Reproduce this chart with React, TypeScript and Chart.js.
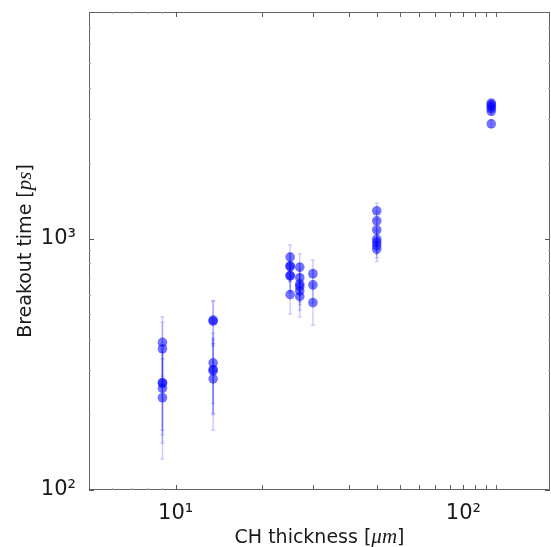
import React, { useEffect, useRef } from 'react';
import { Chart, registerables } from 'chart.js';

Chart.register(...registerables);

// ---- data (CH thickness in µm, breakout time in ps, ± error in ps) ----
const thicknessGroups = [9, 13.5, 25, 27, 30, 50, 125];
const breakout9 = [387, 365, 268, 266, 254, 233];
const breakout13 = [475, 470, 321, 302, 298, 277];
const breakout25 = [845, 780, 776, 716, 712, 600];
const breakout27 = [771, 700, 660, 645, 620, 590];
const breakout30 = [726, 656, 557];
const breakout50 = [1293, 1180, 1086, 997, 970, 940, 910];
const breakout125 = [3470, 3420, 3360, 3300, 3220, 2870];
const error9 = [103, 100, 95, 100, 100, 100];
const error13 = [92, 95, 100, 100, 98, 104];
const error25 = [99, 100, 100, 98, 100, 98];
const error27 = [101, 100, 100, 98, 100, 102];
const error30 = [98, 100, 104];
const error50 = [94, 100, 100, 98, 100, 100, 98];
const error125 = [100, 100, 100, 100, 100, 100];

// ---- axes ----
const xMin = 5;
const xMax = 200;
const yMin = 100;
const yMax = 8000;
const xTickValues = [10, 100];
const xTickLabels = ['10\u00B9', '10\u00B2'];
const yTickValues = [100, 1000];
const yTickLabels = ['10\u00B2', '10\u00B3'];
const xMinorShort = [6, 7, 8, 9];
const xMinorLong = [20, 30, 40, 50, 60, 70, 80, 90, 110, 120, 130];
const yMinor = [200, 300, 400, 500, 600, 700, 800, 900, 2000, 3000, 4000, 5000, 6000, 7000];

const breakoutGroups = [breakout9, breakout13, breakout25, breakout27, breakout30, breakout50, breakout125];
const errorGroups = [error9, error13, error25, error27, error30, error50, error125];

const SANS = '"DejaVu Sans", sans-serif';
const SERIF = '"Liberation Serif", "DejaVu Serif", serif';
const TEXT = '#1a1a1a';

function buildPoints() {
  const pts: { x: number; y: number; err: number }[] = [];
  thicknessGroups.forEach((t, gi) => {
    breakoutGroups[gi].forEach((v, i) => {
      pts.push({ x: t, y: v, err: errorGroups[gi][i] });
    });
  });
  return pts;
}

const errorBarPlugin = {
  id: 'errorBars',
  beforeDatasetsDraw(chart: any) {
    const { ctx, chartArea, scales } = chart;
    const xs = scales.x;
    const ys = scales.y;
    ctx.save();
    ctx.beginPath();
    ctx.rect(chartArea.left, chartArea.top, chartArea.right - chartArea.left, chartArea.bottom - chartArea.top);
    ctx.clip();
    ctx.strokeStyle = 'rgba(0,0,255,0.2)';
    ctx.lineWidth = 1.5;
    chart.data.datasets.forEach((ds: any) => {
      ds.data.forEach((p: any) => {
        const px = xs.getPixelForValue(p.x);
        const top = ys.getPixelForValue(p.y + p.err);
        const bot = ys.getPixelForValue(Math.max(p.y - p.err, 1));
        ctx.beginPath();
        ctx.moveTo(px, top);
        ctx.lineTo(px, bot);
        ctx.moveTo(px - 2, top);
        ctx.lineTo(px + 2, top);
        ctx.moveTo(px - 2, bot);
        ctx.lineTo(px + 2, bot);
        ctx.stroke();
      });
    });
    ctx.restore();
  },
};

const framePlugin = {
  id: 'frame',
  afterDraw(chart: any) {
    const { ctx, chartArea, scales } = chart;
    const { left, right, top, bottom } = chartArea;
    const xs = scales.x;
    const ys = scales.y;
    ctx.save();
    ctx.strokeStyle = '#666';
    ctx.lineWidth = 1;
    ctx.strokeRect(Math.round(left) + 0.5, Math.round(top) + 0.5, Math.round(right - left) - 1, Math.round(bottom - top) - 1);

    const vTick = (v: number, len: number, color: string) => {
      const px = Math.round(xs.getPixelForValue(v)) + 0.5;
      ctx.strokeStyle = color;
      ctx.beginPath();
      ctx.moveTo(px, bottom);
      ctx.lineTo(px, bottom - len);
      ctx.moveTo(px, top);
      ctx.lineTo(px, top + len);
      ctx.stroke();
    };
    const hTick = (v: number, len: number, color: string) => {
      const py = Math.round(ys.getPixelForValue(v)) + 0.5;
      ctx.strokeStyle = color;
      ctx.beginPath();
      ctx.moveTo(left, py);
      ctx.lineTo(left + len, py);
      ctx.moveTo(right, py);
      ctx.lineTo(right - len, py);
      ctx.stroke();
    };
    xMinorShort.forEach((v) => vTick(v, 2, '#aaa'));
    xMinorLong.forEach((v) => vTick(v, 5, '#666'));
    xTickValues.forEach((v) => vTick(v, 5, '#555'));
    yMinor.forEach((v) => hTick(v, 2, '#aaa'));
    yTickValues.forEach((v) => hTick(v, 5, '#555'));

    // axis titles with mixed fonts
    const drawMixed = (parts: { t: string; f: string }[], cx: number, baseY: number) => {
      let total = 0;
      parts.forEach((p) => {
        ctx.font = p.f;
        total += ctx.measureText(p.t).width;
      });
      let x = cx - total / 2;
      ctx.fillStyle = TEXT;
      ctx.textBaseline = 'alphabetic';
      ctx.textAlign = 'left';
      parts.forEach((p) => {
        ctx.font = p.f;
        ctx.fillText(p.t, x, baseY);
        x += ctx.measureText(p.t).width;
      });
    };
    const sans = `19px ${SANS}`;
    const ital = `italic 21px ${SERIF}`;
    drawMixed(
      [
        { t: 'CH thickness [', f: sans },
        { t: '\u03BCm', f: ital },
        { t: ']', f: sans },
      ],
      (left + right) / 2,
      542.5
    );
    ctx.save();
    ctx.translate(31, (top + bottom) / 2);
    ctx.rotate(-Math.PI / 2);
    drawMixed(
      [
        { t: 'Breakout time [', f: sans },
        { t: 'ps', f: ital },
        { t: ']', f: sans },
      ],
      0,
      0
    );
    ctx.restore();
    ctx.restore();
  },
};

export default function App() {
  const canvasRef = useRef<HTMLCanvasElement | null>(null);

  useEffect(() => {
    if (!canvasRef.current) return;
    const chart = new Chart(canvasRef.current, {
      type: 'scatter',
      data: {
        datasets: [
          {
            label: 'Breakout time',
            data: buildPoints(),
            backgroundColor: 'rgba(0,0,255,0.55)',
            borderWidth: 0,
            pointRadius: 4.8,
            pointHoverRadius: 4.8,
          },
        ],
      },
      options: {
        animation: false,
        responsive: false,
        devicePixelRatio: 1,
        layout: { autoPadding: false, padding: { top: 12, right: 1, left: 0, bottom: 0 } },
        plugins: {
          legend: { display: false },
          tooltip: { enabled: false },
          title: { display: false },
        },
        scales: {
          x: {
            type: 'logarithmic',
            min: xMin,
            max: xMax,
            grid: { display: false, drawTicks: false },
            border: { display: false },
            afterBuildTicks: (scale: any) => {
              scale.ticks = xTickValues.map((v) => ({ value: v }));
            },
            afterFit: (scale: any) => {
              scale.height = 57;
              scale.paddingLeft = 0;
              scale.paddingRight = 0;
              scale.paddingTop = 0;
              scale.paddingBottom = 0;
            },
            ticks: {
              autoSkip: false,
              maxRotation: 0,
              padding: 11,
              color: TEXT,
              font: { family: SANS, size: 21 },
              callback: (v: any) => {
                const i = xTickValues.indexOf(Number(v));
                return i >= 0 ? xTickLabels[i] : '';
              },
            },
          },
          y: {
            type: 'logarithmic',
            min: yMin,
            max: yMax,
            grid: { display: false, drawTicks: false },
            border: { display: false },
            afterBuildTicks: (scale: any) => {
              scale.ticks = yTickValues.map((v) => ({ value: v }));
            },
            afterFit: (scale: any) => {
              scale.width = 89;
              scale.paddingLeft = 0;
              scale.paddingRight = 0;
              scale.paddingTop = 0;
              scale.paddingBottom = 0;
            },
            ticks: {
              autoSkip: false,
              padding: 13,
              color: TEXT,
              font: { family: SANS, size: 21 },
              callback: (v: any) => {
                const i = yTickValues.indexOf(Number(v));
                return i >= 0 ? yTickLabels[i] : '';
              },
            },
          },
        },
      },
      plugins: [errorBarPlugin, framePlugin],
    });
    return () => chart.destroy();
  }, []);

  return (
    <div style={{ position: 'absolute', left: 0, top: 0, width: 551, height: 547, background: '#fff' }}>
      <canvas ref={canvasRef} width={551} height={547} style={{ display: 'block', width: 551, height: 547 }} />
    </div>
  );
}
